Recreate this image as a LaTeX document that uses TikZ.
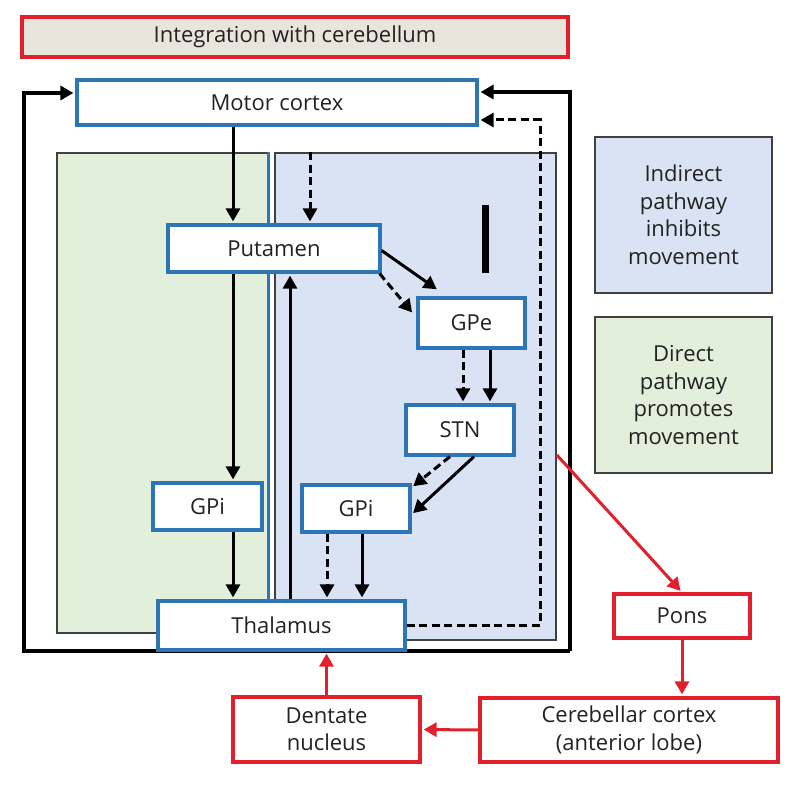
\documentclass[tikz,border=0pt]{standalone}
\usepackage{fontspec}
\setmainfont{Open Sans}
\usetikzlibrary{arrows.meta}
\definecolor{nblue}{RGB}{46,117,182}
\definecolor{nred}{RGB}{226,32,44}
\definecolor{lblue}{RGB}{218,227,243}
\definecolor{lgreen}{RGB}{226,239,218}
\definecolor{beige}{RGB}{232,230,220}
\definecolor{txt}{RGB}{34,34,34}
\definecolor{frame}{RGB}{64,64,64}
\begin{document}
\begin{tikzpicture}[x=1pt,y=-1pt,
  font=\fontsize{22}{27.5}\selectfont, text=txt,
  bnode/.style={draw=nblue,line width=3.2pt,fill=white,inner sep=0pt,align=center},
  rnode/.style={draw=nred,line width=3.2pt,fill=white,inner sep=0pt,align=center},
  panel/.style={draw=frame,line width=1.7pt,inner sep=0pt,align=center},
  arr/.style={line width=3pt,shorten >=2pt,-{Triangle[length=13pt,width=14pt]}},
  darr/.style={arr,dash pattern=on 8pt off 4.5pt},
  rarr/.style={arr,draw=nred,fill=nred,line width=3pt}]
\useasboundingbox (0,0) rectangle (812,786);
% panels
\node[panel,fill=lgreen,minimum width=211pt,minimum height=480pt] (green) at (162.5,393) {};
\node[panel,fill=lblue,minimum width=281pt,minimum height=487pt] (blue) at (415.5,396.5) {};
\node[panel,fill=lblue,minimum width=177pt,minimum height=156pt] (legI) at (683.5,215) {Indirect\\pathway\\inhibits\\movement};
\node[panel,fill=lgreen,minimum width=177pt,minimum height=156pt] (legD) at (683.5,395) {Direct\\pathway\\promotes\\movement};
\node[draw=nred,line width=3.2pt,fill=beige,minimum width=546pt,minimum height=40pt,inner sep=0pt] (title) at (295,37) {Integration with cerebellum};
% x positions
\coordinate (xa) at (233,0);
\coordinate (xb) at (290,0);
\coordinate (xc) at (310,0);
\coordinate (xd) at (463,0);
\coordinate (xe) at (490,0);
\coordinate (xf) at (327,0);
\coordinate (xg) at (362,0);
\coordinate (lb) at (24,651);
\coordinate (rb) at (570,651);
\coordinate (dc) at (540,300);
% blue divider line
\draw[nblue,line width=2.8pt] (green.north east) -- (green.north east |- 0,601);
% nodes
\node[bnode,minimum width=400pt,minimum height=45pt] (motor) at (277,102.5) {Motor cortex};
\node[bnode,minimum width=212pt,minimum height=47pt] (put) at (274,248.5) {Putamen};
\node[bnode,minimum width=109pt,minimum height=47pt] (gpil) at (207.5,506.5) {GPi};
\node[bnode,minimum width=107pt,minimum height=50pt] (gpe) at (471.5,323) {GPe};
\node[bnode,minimum width=108pt,minimum height=50pt] (stn) at (460,430) {STN};
\node[bnode,minimum width=108pt,minimum height=47pt] (gpir) at (356,508.5) {GPi};
% outer loop
\draw[arr,line width=3.4pt] (rb) -- (lb) |- ([yshift=9.5pt]motor.west);
\draw[arr,line width=3.4pt] (rb) |- ([yshift=10.5pt]motor.east);
\node[bnode,minimum width=247pt,minimum height=49pt] (thal) at (281.5,625.5) {Thalamus};
\draw[darr] (thal.east) -| (dc) |- ([yshift=-17.5pt]motor.east);
% thick bar
\fill[black] (482,205) rectangle (489,273);
% direct pathway
\draw[arr] (motor.south -| xa) -- (put.north -| xa);
\draw[darr] (blue.north -| xc) -- (put.north -| xc);
\draw[arr] (put.south -| xa) -- (gpil.north -| xa);
\draw[arr] (gpil.south -| xa) -- (thal.north -| xa);
\draw[arr] (thal.north -| xb) -- (put.south -| xb);
% indirect pathway
\draw[arr] ([yshift=-2pt]put.east) -- ([xshift=22pt,yshift=6pt]gpe.north west);
\draw[darr] ([xshift=-2pt]put.south east) -- ([xshift=-3pt,yshift=9pt]gpe.west);
\draw[darr] (gpe.south -| xd) -- (stn.north -| xd);
\draw[arr] (gpe.south -| xe) -- (stn.north -| xe);
\draw[darr] ([xshift=-10pt]stn.south) -- ([yshift=21pt]gpir.east);
\draw[arr] ([xshift=14pt]stn.south) -- ([yshift=-6pt]gpir.east);
\draw[darr] (gpir.south -| xf) -- (thal.north -| xf);
\draw[arr] (gpir.south -| xg) -- (thal.north -| xg);
% cerebellum
\node[rnode,minimum width=136pt,minimum height=44pt] (pons) at (682,616) {Pons};
\node[rnode,minimum width=298pt,minimum height=64pt] (cer) at (629,730) {Cerebellar cortex\\(anterior lobe)};
\node[rnode,minimum width=187pt,minimum height=65pt] (dent) at (326.5,729.5) {Dentate\\nucleus};
\draw[rarr] ([yshift=-58.5pt]blue.east) -- (pons.north);
\draw[rarr] (pons.south) -- (pons.south |- cer.north);
\draw[rarr] (cer.west) -- (dent.east);
\draw[rarr] (dent.north) -- (thal.south -| dent.north);
\end{tikzpicture}
\end{document}
